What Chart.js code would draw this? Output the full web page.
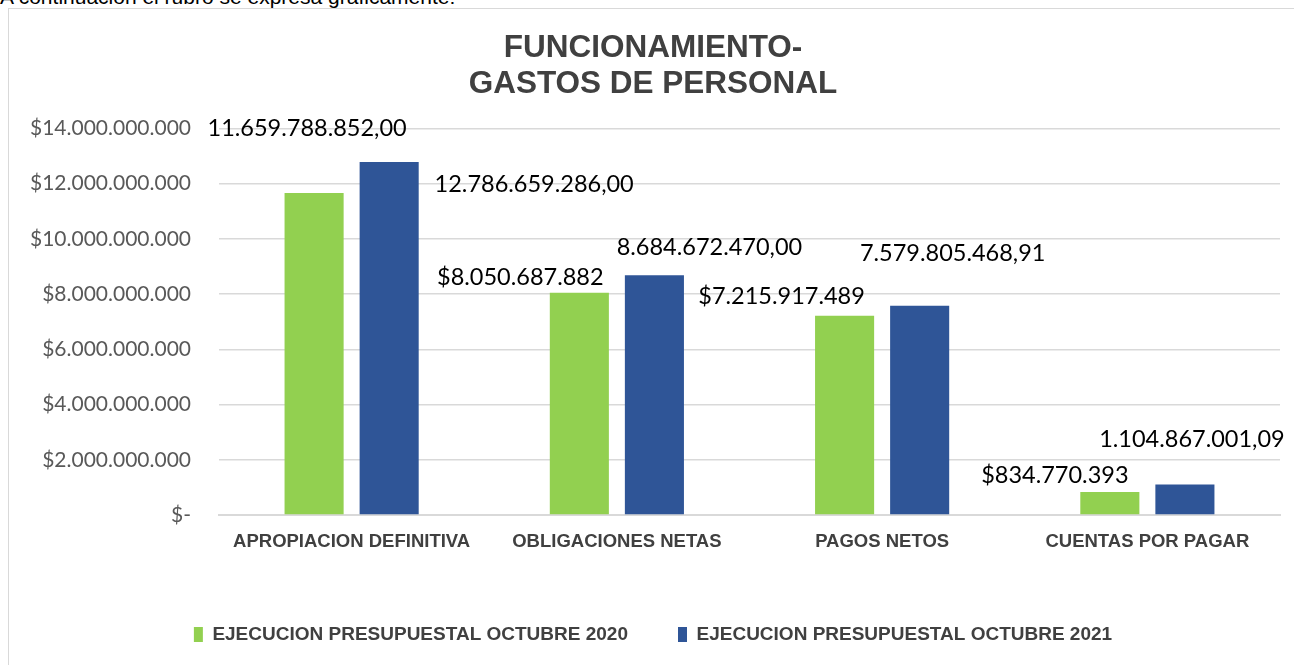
<!DOCTYPE html>
<html>
<head>
    <title>Funcionamiento - Gastos de personal</title>
    <script src="https://cdn.jsdelivr.net/npm/chart.js"></script>
    <style>
        body { margin: 0; overflow: hidden; background: #fff; width: 1294px; height: 665px; position: relative; }
        #intro { position: absolute; left: 0; top: -15px; font: 21px "Liberation Sans", Arial, sans-serif; color: #000; white-space: nowrap; }
        #caja { position: absolute; left: 8px; top: 8px; width: 1300px; height: 680px; border: 1px solid #d9d9d9; box-sizing: border-box; }
        #grafico { position: absolute; left: 0; top: 0; }
    </style>
</head>
<body>
    <div id="intro">A continuación el rubro se expresa gráficamente:</div>
    <div id="caja"><canvas id="grafico" width="1285" height="720"></canvas></div>
<script>
    // datos
    const categorias = ['APROPIACION DEFINITIVA', 'OBLIGACIONES NETAS', 'PAGOS NETOS', 'CUENTAS POR PAGAR'];
    const series = ['EJECUCION PRESUPUESTAL OCTUBRE 2020', 'EJECUCION PRESUPUESTAL OCTUBRE 2021'];
    const valores2020 = [11659788852.00, 8050687882, 7215917489, 834770393];
    const valores2021 = [12786659286.00, 8684672470.00, 7579805468.91, 1104867001.09];
    const etiquetas2020 = ['11.659.788.852,00', '$8.050.687.882', '$7.215.917.489', '$834.770.393'];
    const etiquetas2021 = ['12.786.659.286,00', '8.684.672.470,00', '7.579.805.468,91', '1.104.867.001,09'];
    const ticksY = [0, 2e9, 4e9, 6e9, 8e9, 10e9, 12e9, 14e9];

    // desplazamiento de cada etiqueta respecto a la punta de su barra (como quedaron en excel)
    const desplaza = [
        [[-7, -65], [-59, -15], [-63, -19], [-55, -17]],
        [[145, 22], [55, -28], [33, -52], [7, -45]]
    ];

    function formatoPeso(v) {
        if (v === 0) return '$-';
        return '$' + String(Math.round(v)).replace(/\B(?=(\d{3})+(?!\d))/g, '.');
    }

    const etiquetasPlugin = {
        id: 'etiquetas',
        afterDatasetsDraw(chart) {
            const c = chart.ctx;
            const textos = [etiquetas2020, etiquetas2021];
            c.save();
            c.font = '23.5px Lato, "Open Sans", sans-serif';
            c.fillStyle = '#000';
            c.textAlign = 'center';
            c.textBaseline = 'middle';
            chart.data.datasets.forEach((ds, i) => {
                chart.getDatasetMeta(i).data.forEach((bar, j) => {
                    c.fillText(textos[i][j], bar.x + desplaza[i][j][0], bar.y + desplaza[i][j][1]);
                });
            });
            c.restore();
        }
    };

    const ctx = document.getElementById('grafico').getContext('2d');

    var grafico = new Chart(ctx, {
        type: 'bar',
        data: {
            labels: categorias,
            datasets: [{
                label: series[0],
                data: valores2020,
                backgroundColor: '#92D050',
                categoryPercentage: 0.566,
                barPercentage: 0.787
            }, {
                label: series[1],
                data: valores2021,
                backgroundColor: '#2F5597',
                categoryPercentage: 0.566,
                barPercentage: 0.787
            }]
        },
        options: {
            responsive: false,
            animation: false,
            layout: { padding: { top: 10, right: 14, bottom: 75, left: 17 } },
            scales: {
                x: {
                    grid: { display: false },
                    border: { display: true, color: '#d9d9d9', width: 2 },
                    ticks: {
                        color: '#404040',
                        padding: 8,
                        font: { family: '"Liberation Sans Narrow", "Liberation Sans", Arial', size: 18.5, weight: 'bold' }
                    },
                    afterFit(scale) { scale.height = 60; }
                },
                y: {
                    min: 0,
                    max: 14e9,
                    afterBuildTicks(scale) { scale.ticks = ticksY.map(v => ({ value: v })); },
                    grid: { color: '#d9d9d9', lineWidth: 1.5, drawTicks: false },
                    border: { display: false },
                    ticks: {
                        color: '#595959',
                        padding: 28,
                        font: { family: 'Lato, "Open Sans", sans-serif', size: 21 },
                        callback: v => formatoPeso(v)
                    },
                    afterFit(scale) { scale.width = 193; }
                }
            },
            plugins: {
                title: {
                    display: true,
                    text: ['FUNCIONAMIENTO-', 'GASTOS DE PERSONAL'],
                    color: '#404040',
                    font: { family: '"Liberation Sans", Arial', size: 31.5, weight: 'bold', lineHeight: 1.15 },
                    padding: { top: 11, bottom: 26 }
                },
                legend: {
                    display: true,
                    position: 'bottom',
                    labels: {
                        color: '#404040',
                        boxWidth: 9,
                        boxHeight: 15,
                        padding: 50,
                        font: { family: '"Liberation Sans Narrow", "Liberation Sans", Arial', size: 19, weight: 'bold' }
                    }
                },
                tooltip: { enabled: false }
            }
        },
        plugins: [etiquetasPlugin]
    });
</script>
</body>
</html>
